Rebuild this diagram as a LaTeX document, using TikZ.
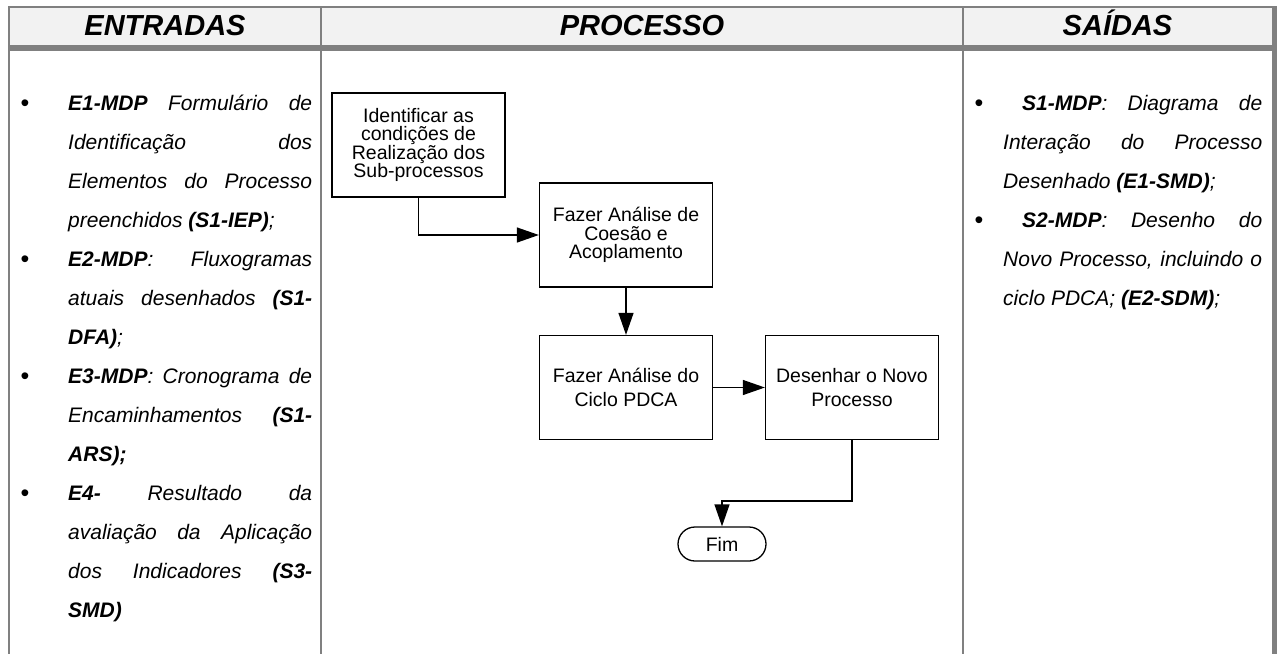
\documentclass[tikz,border=0pt]{standalone}
\usepackage{fontspec}
\setmainfont{Liberation Sans}
\usetikzlibrary{arrows.meta}
\definecolor{rulegray}{HTML}{808080}
\definecolor{headfill}{HTML}{F2F2F2}
\newcommand{\jl}[2]{\makebox[#1][s]{#2}}
\begin{document}
\begin{tikzpicture}[x=1pt,y=-1pt,
  hdr/.style={inner sep=0, anchor=base, font=\fontsize{29}{34}\selectfont\bfseries\itshape},
  bodyln/.style={inner sep=0, anchor=base west, font=\fontsize{21}{25}\selectfont\itshape},
  bul/.style={inner sep=0, anchor=base, font=\fontsize{25}{25}\selectfont},
  procbox/.style={draw, line width=1.3pt, minimum width=173pt, minimum height=104pt, align=center, inner sep=0},
  boxfontA/.style={font=\fontsize{19.5}{18.5}\selectfont},
  boxfontB/.style={font=\fontsize{19.5}{24}\selectfont},
  arr/.style={line width=1.3pt, -{Triangle[length=22pt,width=15pt]}},
]
\useasboundingbox (0,0) rectangle (1278,654);
% table frame
\fill[headfill] (9,7) rectangle (1272,45);
\fill[rulegray] (8,45) rectangle (1277,51);
\draw[rulegray, line width=2pt] (8,7) -- (1273,7);
\draw[rulegray, line width=2pt] (9,6) -- (9,654);
\draw[rulegray, line width=2pt] (321,7) -- (321,654);
\draw[rulegray, line width=2pt] (963,7) -- (963,654);
\fill[rulegray] (1272,6) rectangle (1277,654);
% headers
\node[hdr] (h1) at (165,35.5) {ENTRADAS};
\node[hdr] (h2) at (642,35.5) {PROCESSO};
\node[hdr] (h3) at (1117.5,35.5) {SAÍDAS};
% left column (baseline = 110 + 39 k)
\node[bul] (lb1) at (25,111) {•};
\node[bul] (lb2) at (25,267) {•};
\node[bul] (lb3) at (25,384) {•};
\node[bul] (lb4) at (25,501) {•};
\node[bodyln] (l1) at (68,110) {\jl{244pt}{\textbf{E1-MDP} Formulário de}};
\node[bodyln] (l2) at (68,149) {\jl{244pt}{Identificação dos}};
\node[bodyln] (l3) at (68,188) {\jl{244pt}{Elementos do Processo}};
\node[bodyln] (l4) at (68,227) {preenchidos \textbf{(S1-IEP)};};
\node[bodyln] (l5) at (68,266) {\jl{244pt}{\textbf{E2-MDP}: Fluxogramas}};
\node[bodyln] (l6) at (68,305) {\jl{244pt}{atuais desenhados \textbf{(S1-}}};
\node[bodyln] (l7) at (68,344) {\textbf{DFA)};};
\node[bodyln] (l8) at (68,383) {\jl{244pt}{\textbf{E3-MDP}: Cronograma de}};
\node[bodyln] (l9) at (68,422) {\jl{244pt}{Encaminhamentos \textbf{(S1-}}};
\node[bodyln] (l10) at (68,461) {\textbf{ARS);}};
\node[bodyln] (l11) at (68,500) {\jl{244pt}{\textbf{E4-} Resultado da}};
\node[bodyln] (l12) at (68,539) {\jl{244pt}{avaliação da Aplicação}};
\node[bodyln] (l13) at (68,578) {\jl{244pt}{dos Indicadores \textbf{(S3-}}};
\node[bodyln] (l14) at (68,617) {\textbf{SMD)}};
% right column
\node[bul] (rb1) at (979,111) {•};
\node[bul] (rb2) at (979,228) {•};
\node[bodyln] (r1) at (1022,110) {\jl{240pt}{\textbf{S1-MDP}: Diagrama de}};
\node[bodyln] (r2) at (1003,149) {\jl{259pt}{Interação do Processo}};
\node[bodyln] (r3) at (1003,188) {Desenhado \textbf{(E1-SMD)};};
\node[bodyln] (r4) at (1022,227) {\jl{240pt}{\textbf{S2-MDP}: Desenho do}};
\node[bodyln] (r5) at (1003,266) {\jl{259pt}{Novo Processo, incluindo o}};
\node[bodyln] (r6) at (1003,305) {ciclo PDCA; \textbf{(E2-SDM)};};
% process flow
\node[procbox, boxfontA] (b1) at (418.5,145) {Identificar as\\condições de\\Realização dos\\Sub-processos};
\node[procbox, boxfontA] (b2) at (626,235) {Fazer Análise de\\Coesão e\\Acoplamento};
\node[procbox, boxfontB] (b3) at (626,387.5) {Fazer Análise do\\Ciclo PDCA};
\node[procbox, boxfontB] (b4) at (852,387.5) {Desenhar o Novo\\Processo};
\node[draw, line width=1.3pt, rounded corners=17pt, minimum width=88pt, minimum height=34pt, inner sep=0, font=\fontsize{19.5}{22}\selectfont] (fim) at (722,544) {Fim};
\coordinate (elbow) at (852,501);
\draw[arr] (b1.south) |- (b2.west);
\draw[arr] (b2.south) -- (b3.north);
\draw[arr] (b3.east) -- (b4.west);
\draw[arr] (b4.south) -- (elbow) -| (fim.north);
\end{tikzpicture}
\end{document}
